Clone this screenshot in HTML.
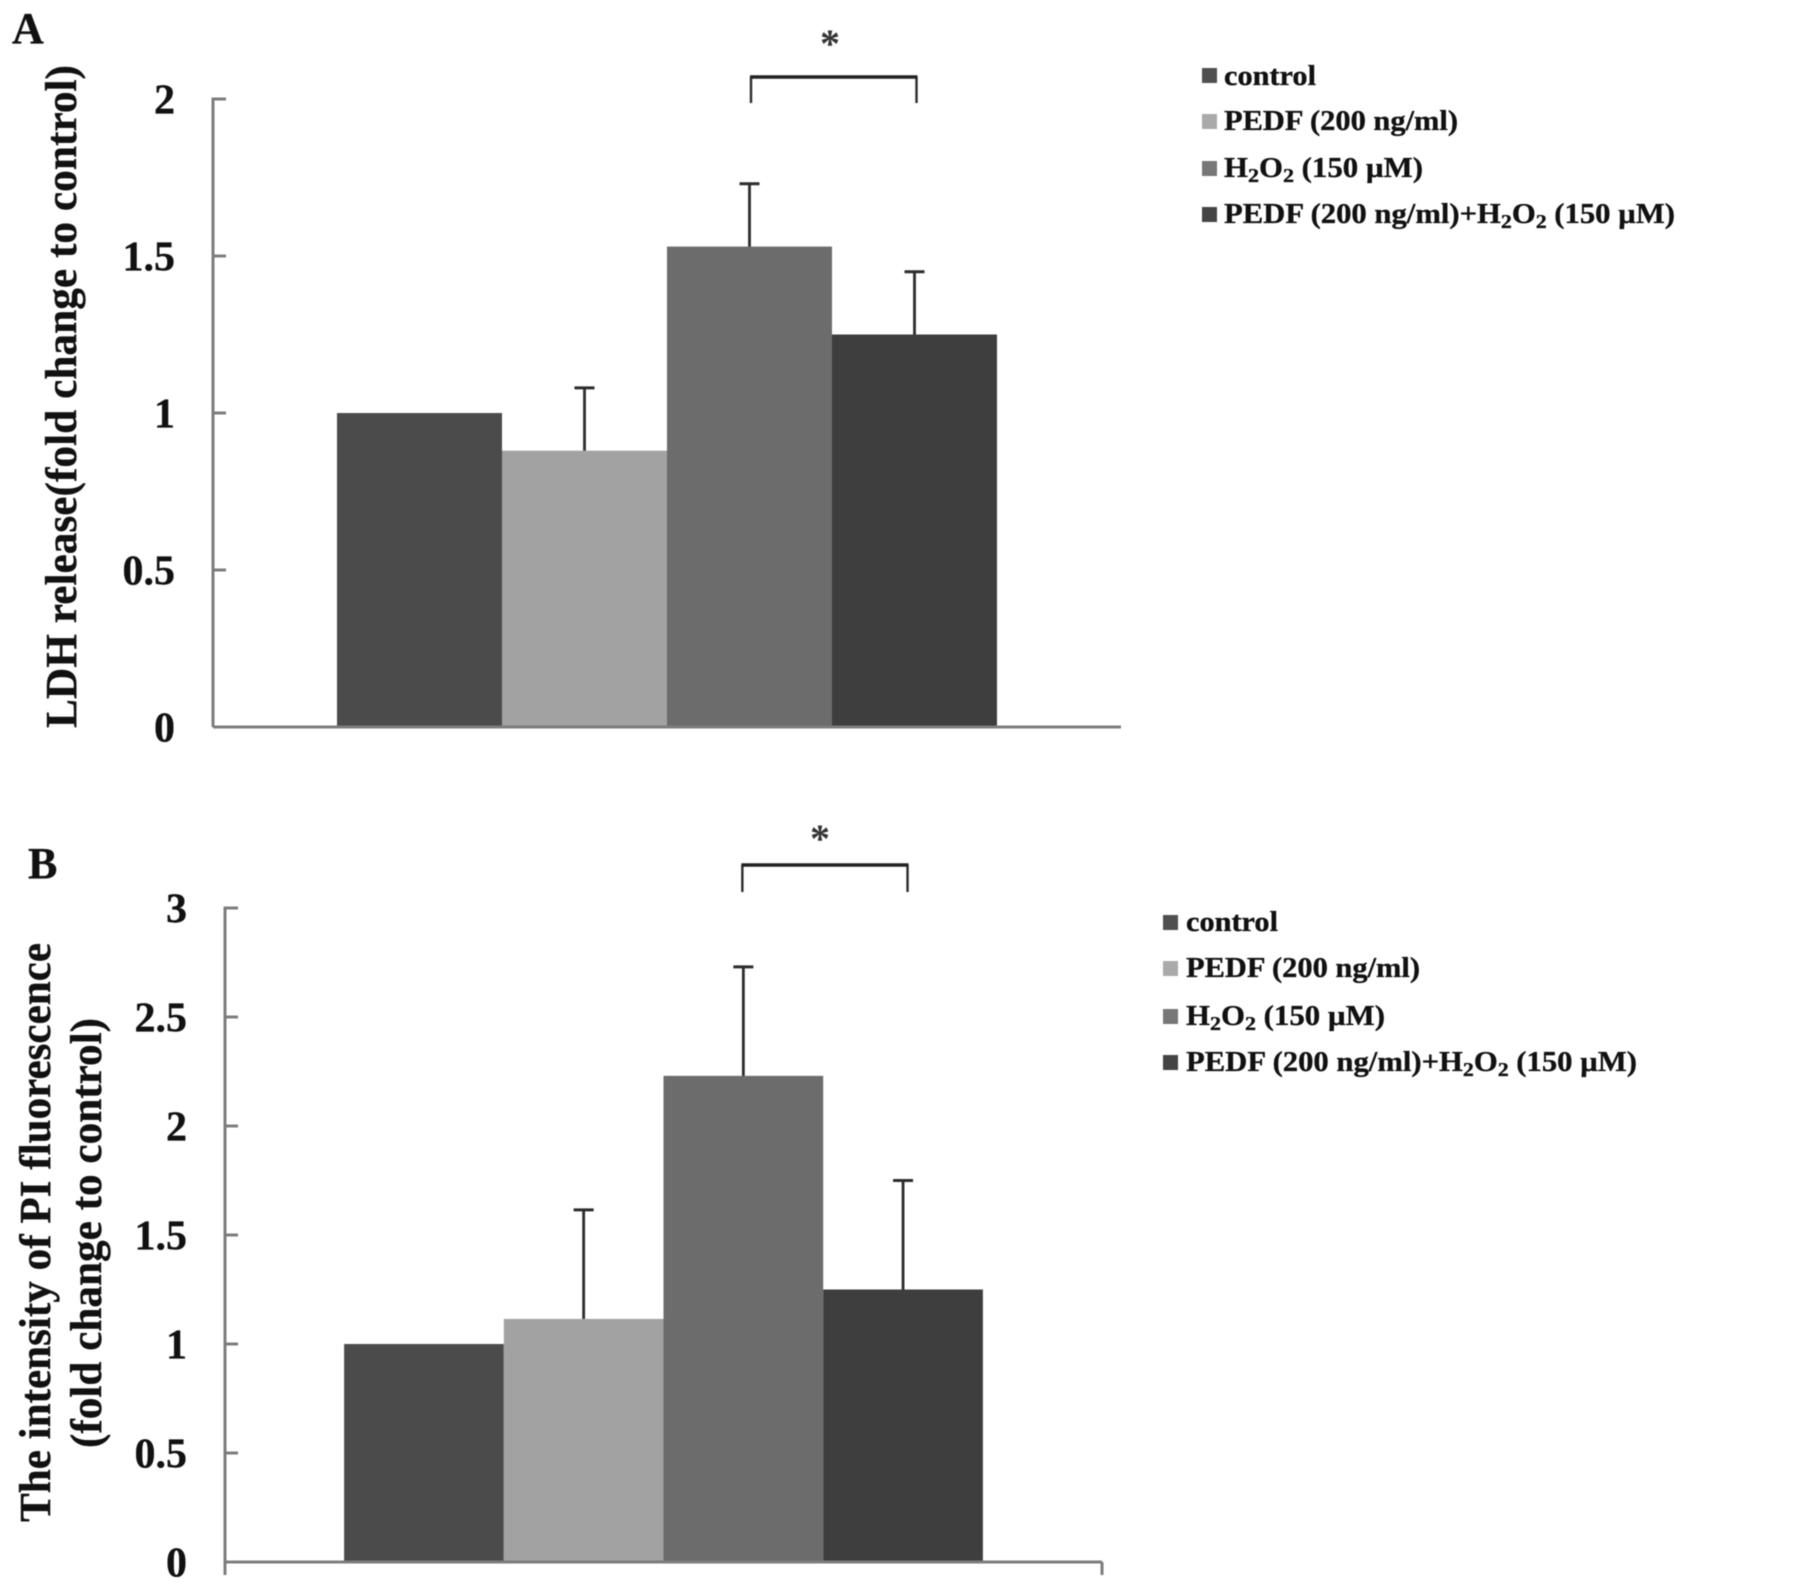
<!DOCTYPE html>
<html>
<head>
<meta charset="utf-8">
<title>LDH release and PI fluorescence</title>
<style>
html,body{margin:0;padding:0;background:#fff;width:1795px;height:1590px;overflow:hidden}
svg{display:block;filter:blur(.55px)}
text{font-family:"Liberation Serif",serif;font-weight:bold;fill:#111;stroke:#111;stroke-width:.35px}
.legend-text{font-size:28px}
.axis-title{font-size:44px}
.tick-label{font-size:42px;text-anchor:end}
.panel-letter{font-size:44px}
.star{font-size:40px;text-anchor:middle;fill:#333;stroke:none}
</style>
</head>
<body>
<svg id="fig" xmlns="http://www.w3.org/2000/svg" width="1795" height="1590" viewBox="0 0 1795 1590">
  <rect x="0" y="0" width="1795" height="1590" fill="#fff"/>
  <g id="panel-a">
    <text class="panel-letter" x="12" y="43">A</text>
    <text class="axis-title" x="76" y="728" textLength="663" lengthAdjust="spacingAndGlyphs" transform="rotate(-90 76 728)">LDH release(fold change to control)</text>
    <g>
      <rect x="1202" y="68" width="15" height="15" fill="#505050"/>
      <text class="legend-text" x="1224" y="85" textLength="92" lengthAdjust="spacingAndGlyphs">control</text>
      <rect x="1202" y="114" width="15" height="15" fill="#aaaaaa"/>
      <text class="legend-text" x="1224" y="130" textLength="234" lengthAdjust="spacingAndGlyphs">PEDF (200 ng/ml)</text>
      <rect x="1202" y="161" width="15" height="15" fill="#777777"/>
      <text class="legend-text" x="1224" y="177" textLength="199" lengthAdjust="spacingAndGlyphs">H<tspan dy="5" font-size="20">2</tspan><tspan dy="-5">O</tspan><tspan dy="5" font-size="20">2</tspan><tspan dy="-5"> (150 µM)</tspan></text>
      <rect x="1202" y="207" width="15" height="15" fill="#444444"/>
      <text class="legend-text" x="1224" y="223" textLength="451" lengthAdjust="spacingAndGlyphs">PEDF (200 ng/ml)+H<tspan dy="5" font-size="20">2</tspan><tspan dy="-5">O</tspan><tspan dy="5" font-size="20">2</tspan><tspan dy="-5"> (150 µM)</tspan></text>
    </g>
  </g>
  <g id="panel-b">
    <text class="panel-letter" x="28" y="878">B</text>
    <text class="axis-title" x="50" y="1522" textLength="579" lengthAdjust="spacingAndGlyphs" transform="rotate(-90 50 1522)">The intensity of PI fluorescence</text>
    <text class="axis-title" x="101" y="1448" textLength="430" lengthAdjust="spacingAndGlyphs" transform="rotate(-90 101 1448)">(fold change to control)</text>
    <g>
      <rect x="1163" y="915" width="15" height="15" fill="#505050"/>
      <text class="legend-text" x="1186" y="931" textLength="92" lengthAdjust="spacingAndGlyphs">control</text>
      <rect x="1163" y="961" width="15" height="15" fill="#aaaaaa"/>
      <text class="legend-text" x="1186" y="977" textLength="234" lengthAdjust="spacingAndGlyphs">PEDF (200 ng/ml)</text>
      <rect x="1163" y="1009" width="15" height="15" fill="#777777"/>
      <text class="legend-text" x="1186" y="1025" textLength="199" lengthAdjust="spacingAndGlyphs">H<tspan dy="5" font-size="20">2</tspan><tspan dy="-5">O</tspan><tspan dy="5" font-size="20">2</tspan><tspan dy="-5"> (150 µM)</tspan></text>
      <rect x="1163" y="1055" width="15" height="15" fill="#444444"/>
      <text class="legend-text" x="1186" y="1071" textLength="451" lengthAdjust="spacingAndGlyphs">PEDF (200 ng/ml)+H<tspan dy="5" font-size="20">2</tspan><tspan dy="-5">O</tspan><tspan dy="5" font-size="20">2</tspan><tspan dy="-5"> (150 µM)</tspan></text>
    </g>
  </g>
</svg>
<script>
const categories = ['control', 'pedf', 'h2o2', 'pedf-h2o2'];
const barColors = ['#4b4b4b', '#a2a2a2', '#6c6c6c', '#3e3e3e'];
const panelAValues = [1, 0.88, 1.53, 1.25];
const panelAErrors = [0, 0.2, 0.2, 0.2];
const panelATicks = [0, 0.5, 1, 1.5, 2];
const panelBValues = [1, 1.115, 2.23, 1.25];
const panelBErrors = [0, 0.5, 0.5, 0.5];
const panelBTicks = [0, 0.5, 1, 1.5, 2, 2.5, 3];

const NS = 'http://www.w3.org/2000/svg';
const AXIS_COLOR = '#7c7c7c';
const INK = '#2c2c2c';

function make(parent, tag, props) {
  const node = document.createElementNS(NS, tag);
  for (const key in props) node.setAttribute(key, props[key]);
  parent.appendChild(node);
  return node;
}

function drawPanel(cfg) {
  const root = document.getElementById(cfg.id);
  const maxTick = Math.max.apply(null, cfg.ticks);
  const yScale = function (v) {
    return cfg.baseY - (v / maxTick) * (cfg.baseY - cfg.topY);
  };
  const plotCenter = (cfg.axisX + cfg.axisEnd) / 2;
  const bandWidth = cfg.barWidth;
  const bandLeft = function (i) {
    return plotCenter - (categories.length * bandWidth) / 2 + i * bandWidth;
  };
  const bandCenter = function (i) {
    return bandLeft(i) + bandWidth / 2;
  };

  categories.forEach(function (cat, i) {
    const top = yScale(cfg.values[i]);
    const bar = make(root, 'rect', {
      x: bandLeft(i), y: top, width: bandWidth, height: cfg.baseY - top, fill: barColors[i]
    });
    
    

    if (cfg.errors[i] > 0) {
      const capY = yScale(cfg.values[i] + cfg.errors[i]);
      const stem = make(root, 'line', {
        x1: bandCenter(i), x2: bandCenter(i), y1: capY, y2: top, stroke: INK, 'stroke-width': 2.8
      });
      
      
      const cap = make(root, 'line', {
        x1: bandCenter(i) - 10, x2: bandCenter(i) + 10, y1: capY, y2: capY, stroke: INK, 'stroke-width': 3
      });
      
      
    }
  });

  const yAxis = make(root, 'line', {
    x1: cfg.axisX, x2: cfg.axisX, y1: cfg.topY - 1.5, y2: cfg.baseY + cfg.endTick, stroke: AXIS_COLOR, 'stroke-width': 3
  });
  
  

  const xAxis = make(root, 'line', {
    x1: cfg.axisX, x2: cfg.axisEnd, y1: cfg.baseY, y2: cfg.baseY, stroke: AXIS_COLOR, 'stroke-width': 3
  });
  
  

  if (cfg.endTick > 0) {
    const endMark = make(root, 'line', {
      x1: cfg.axisEnd, x2: cfg.axisEnd, y1: cfg.baseY, y2: cfg.baseY + cfg.endTick, stroke: AXIS_COLOR, 'stroke-width': 3
    });
    
    
  }

  cfg.ticks.forEach(function (t) {
    const y = yScale(t);
    if (t > 0) {
      const mark = make(root, 'line', {
        x1: cfg.axisX, x2: cfg.axisX + 13, y1: y, y2: y, stroke: AXIS_COLOR, 'stroke-width': 3
      });
      
      
    }
    const label = make(root, 'text', { x: cfg.labelX, y: y + 14.5, class: 'tick-label' });
    label.textContent = String(t);
    
    
  });

  const bracketLeft = bandCenter(2) + cfg.bracketLeftOffset;
  const bracketRight = bandCenter(3) + cfg.bracketRightOffset;
  const bracket = make(root, 'path', {
    d: 'M' + bracketLeft + ' ' + cfg.bracketBottom + 'V' + cfg.bracketY + 'M' + bracketRight + ' ' + cfg.bracketY + 'V' + cfg.bracketBottom,
    fill: 'none', stroke: INK, 'stroke-width': 2.4
  });
  
  
  const bracketTop = make(root, 'line', {
    x1: bracketLeft - 1, x2: bracketRight + 1, y1: cfg.bracketY, y2: cfg.bracketY, stroke: '#222', 'stroke-width': 3.6
  });
  
  

  const star = make(root, 'text', { x: cfg.starX, y: cfg.starY, class: 'star' });
  star.textContent = '*';
  
  
}

drawPanel({
  id: 'panel-a', prefix: 'panel-a', values: panelAValues, errors: panelAErrors, ticks: panelATicks,
  axisX: 213, axisEnd: 1121, topY: 99, baseY: 727, barWidth: 165, labelX: 175, endTick: 0,
  bracketY: 77, bracketBottom: 103, bracketLeftOffset: 1.5, bracketRightOffset: 2, starX: 830, starY: 57
});
drawPanel({
  id: 'panel-b', prefix: 'panel-b', values: panelBValues, errors: panelBErrors, ticks: panelBTicks,
  axisX: 225, axisEnd: 1102, topY: 908, baseY: 1562, barWidth: 159.7, labelX: 187, endTick: 13,
  bracketY: 865, bracketBottom: 892, bracketLeftOffset: -1, bracketRightOffset: 4.5, starX: 820, starY: 852
});
</script>
</body>
</html>
